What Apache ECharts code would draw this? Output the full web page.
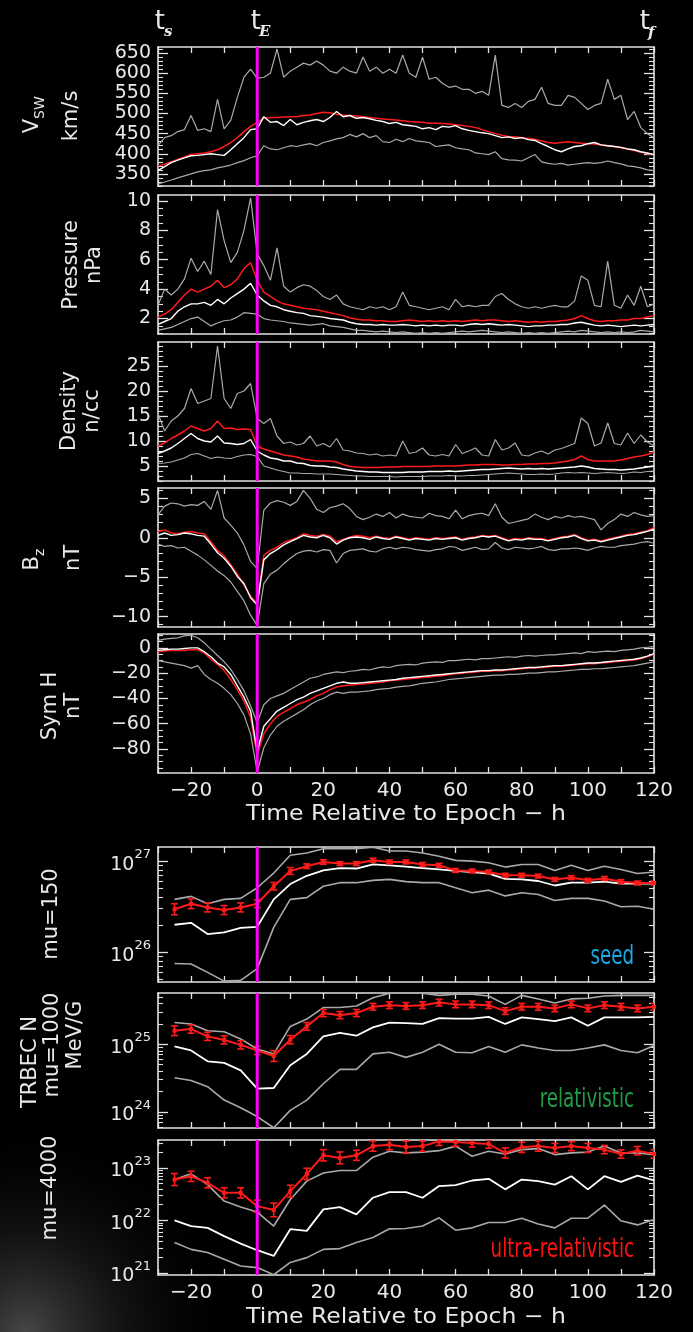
<!DOCTYPE html>
<html><head><meta charset="utf-8">
<script src="https://cdn.jsdelivr.net/npm/echarts@6/dist/echarts.min.js"></script>
<style>html,body{margin:0;padding:0;background:#000;}#c{width:693px;height:1332px;}</style>
</head><body><div id="c"></div>
<script>
// ---------------- DATA ----------------
const hoursSW = [-30,-28,-26,-24,-22,-20,-18,-16,-14,-12,-10,-8,-6,-4,-2,0,2,4,6,8,10,12,14,16,18,20,22,24,26,28,30,32,34,36,38,40,42,44,46,48,50,52,54,56,58,60,62,64,66,68,70,72,74,76,78,80,82,84,86,88,90,92,94,96,98,100,102,104,106,108,110,112,114,116,118,120];
const hoursFlux = [-25,-20,-15,-10,-5,0,5,10,15,20,25,30,35,40,45,50,55,60,65,70,75,80,85,90,95,100,105,110,115,120];
const xLabelValues = [-20,0,20,40,60,80,100,120];

const vswTicks = [350,400,450,500,550,600,650];
const presTicks = [2,4,6,8,10];
const densTicks = [5,10,15,20,25];
const bzTicks = [-10,-5,0,5];
const symTicks = [-80,-60,-40,-20,0];

const vswHi = [420,440,445,455,460,495,458,462,455,535,462,483,540,590,610,587,590,600,660,590,605,615,625,620,630,620,605,600,615,605,600,640,605,615,600,610,600,645,600,590,640,585,590,575,565,568,560,560,550,555,545,645,520,515,525,515,530,535,565,525,520,520,545,540,525,510,520,525,585,535,545,485,505,465,450,440];
const vswRed = [370,374,380,386,392,398,400,402,405,410,418,428,440,455,468,478,488,490,490,491,492,492,495,496,500,503,502,498,496,495,494,492,490,488,486,485,484,482,480,479,478,476,476,475,474,472,470,468,465,460,455,450,446,443,442,440,438,436,432,428,426,428,430,428,426,425,424,422,420,418,415,412,408,404,400,398];
const vswWhite = [358,368,378,384,390,395,396,398,400,398,396,410,425,440,460,462,492,478,480,470,485,472,478,482,485,480,490,505,492,495,488,490,487,483,480,475,478,472,470,468,462,465,460,468,466,470,462,458,455,452,450,445,440,442,438,440,435,433,425,418,410,405,412,418,420,425,428,422,420,418,416,412,410,405,402,398];
const vswLo = [325,330,335,340,345,350,355,358,360,365,368,372,378,383,390,395,420,412,410,415,420,418,422,425,420,428,432,437,440,448,442,450,440,445,430,428,436,430,438,432,430,428,418,420,422,415,412,410,402,400,398,405,388,385,384,382,390,398,380,376,374,376,372,374,376,378,376,378,382,378,375,370,368,365,360,358];

const presHi = [2.9,4.0,3.6,4.0,4.7,6.1,5.2,5.9,5.0,9.4,7.3,5.8,6.5,8.0,10.2,6.4,5.6,4.6,6.8,4.2,3.8,4.1,4.3,4.2,3.9,3.5,3.3,3.6,3.0,2.8,2.7,2.6,2.8,2.7,2.8,2.6,2.8,3.8,2.9,2.8,2.7,2.6,2.7,2.8,2.6,3.3,2.8,2.9,2.8,2.9,2.9,3.5,3.7,3.3,3.0,2.8,2.7,2.8,2.7,2.8,2.9,2.8,2.8,3.2,4.9,4.6,2.9,2.8,5.9,2.9,2.7,3.6,2.9,4.2,2.8,3.0];
const presRed = [2.1,2.3,2.6,3.1,3.6,4.0,3.8,4.0,4.2,4.6,4.1,4.3,4.7,5.4,5.8,4.6,3.8,3.5,3.2,3.0,2.9,2.8,2.7,2.65,2.6,2.5,2.4,2.3,2.2,2.05,1.95,1.9,1.9,1.85,1.85,1.8,1.8,1.85,1.9,1.85,1.8,1.85,1.8,1.85,1.8,1.85,1.8,1.85,1.9,1.85,1.9,1.9,1.85,1.8,1.85,1.8,1.75,1.8,1.75,1.8,1.8,1.85,1.9,2.0,2.2,2.0,1.85,1.8,1.85,1.85,1.9,1.9,2.0,2.0,2.1,2.2];
const presWhite = [1.6,1.8,2.0,2.5,2.8,3.0,3.0,3.1,2.9,3.3,3.0,3.4,3.7,4.0,4.4,3.6,3.2,2.9,2.8,2.6,2.5,2.4,2.35,2.2,2.15,2.1,2.0,1.95,1.9,1.75,1.65,1.6,1.6,1.55,1.6,1.55,1.55,1.6,1.55,1.5,1.55,1.5,1.55,1.5,1.55,1.55,1.5,1.6,1.65,1.6,1.65,1.6,1.55,1.6,1.55,1.5,1.45,1.5,1.5,1.55,1.55,1.6,1.6,1.7,1.75,1.65,1.55,1.5,1.55,1.5,1.45,1.5,1.55,1.5,1.55,1.6];
const presLo = [1.2,1.3,1.4,1.6,1.8,2.0,2.1,1.8,1.5,1.7,1.85,1.9,2.1,2.4,2.35,2.3,2.0,1.9,1.85,1.8,1.7,1.65,1.6,1.55,1.6,1.65,1.5,1.45,1.4,1.3,1.2,1.2,1.15,1.1,1.15,1.1,1.05,1.1,1.05,1.0,1.05,1.0,1.05,1.0,1.05,1.1,1.15,1.1,1.15,1.2,1.15,1.1,1.05,1.1,1.05,1.0,1.05,1.0,1.05,1.0,1.05,1.1,1.15,1.1,1.2,1.15,1.1,1.05,1.1,1.05,1.1,1.05,1.1,1.2,1.15,1.1];

const densHi = [15.5,12.0,14.0,15.0,16.5,20.5,17.5,18.0,18.5,29.0,18.5,16.5,19.5,20.0,21.5,14.5,13.5,14.5,11.0,9.5,9.8,9.2,9.5,11.0,9.0,9.5,8.8,10.5,8.2,8.0,7.6,7.5,7.2,7.4,7.0,7.2,7.0,10.0,7.5,7.8,8.6,7.2,7.0,7.3,7.0,9.3,7.5,8.0,8.6,7.2,7.0,10.3,8.2,8.6,9.6,7.2,7.0,7.6,8.0,7.4,8.2,8.5,9.0,9.5,14.6,13.5,9.0,9.6,13.6,9.5,9.2,11.6,9.5,11.2,9.8,9.0];
const densRed = [9.0,9.6,10.5,11.2,12.0,13.0,12.5,12.0,12.5,14.0,12.5,12.6,12.3,12.4,12.3,9.0,8.4,8.0,7.6,7.2,7.0,6.8,6.4,6.2,6.0,6.0,6.0,5.8,5.3,4.9,4.8,4.7,4.7,4.7,4.75,4.8,4.8,4.9,4.9,4.9,4.9,4.9,5.0,5.0,5.0,5.0,5.1,5.2,5.2,5.3,5.3,5.3,5.2,5.2,5.3,5.3,5.4,5.4,5.5,5.5,5.6,5.8,6.0,6.3,7.0,6.3,6.0,6.0,6.0,6.0,6.2,6.5,6.8,7.0,7.3,7.8];
const densWhite = [7.5,8.0,8.6,9.5,10.5,11.5,10.5,10.0,9.8,11.0,9.6,9.5,9.3,9.5,10.3,8.0,7.2,6.6,6.4,6.0,6.0,5.6,5.5,5.1,5.0,5.0,4.8,4.7,4.4,4.2,4.0,3.9,3.8,3.8,3.7,3.7,3.7,3.7,3.8,3.8,3.8,3.9,3.9,3.9,4.0,3.9,4.0,4.1,4.2,4.3,4.3,4.4,4.5,4.6,4.5,4.4,4.5,4.4,4.5,4.4,4.5,4.6,4.7,4.8,5.0,4.8,4.5,4.4,4.3,4.3,4.2,4.3,4.4,4.6,4.8,5.0];
const densLo = [5.5,5.6,5.8,6.2,6.6,7.3,7.5,7.0,6.5,6.8,6.6,6.5,6.9,7.2,7.3,6.9,5.0,4.6,4.2,3.9,3.6,3.6,3.5,3.5,3.4,3.4,3.4,3.3,3.2,3.1,3.0,3.0,2.9,2.9,2.9,2.9,2.8,2.9,2.9,2.9,2.9,3.0,3.0,3.0,3.1,3.0,3.0,3.1,3.1,3.2,3.3,3.4,3.5,3.6,3.5,3.4,3.3,3.3,3.4,3.3,3.4,3.6,3.7,3.6,3.7,3.6,3.5,3.6,3.7,3.6,3.5,3.6,3.8,3.7,3.9,4.0];

const bzHi = [2.9,4.0,4.4,4.3,4.0,4.2,4.1,4.6,3.6,6.0,2.5,1.6,0.6,-0.9,-3.0,-3.9,3.5,4.4,4.7,4.5,4.1,4.6,6.0,5.0,3.6,3.2,3.8,4.0,4.3,3.7,2.7,2.3,2.6,3.0,2.7,3.2,2.5,3.0,2.7,2.6,2.5,3.1,2.8,2.7,2.4,3.5,2.4,2.8,3.0,3.1,2.8,4.3,2.6,1.8,2.0,2.2,2.4,3.0,2.6,2.3,2.7,2.5,2.8,2.6,2.7,2.5,2.3,1.0,1.8,2.3,3.0,2.7,3.2,2.9,2.7,2.8];
const bzRed = [0.8,1.0,0.6,0.5,0.7,0.8,0.6,0.5,-0.5,-1.6,-2.3,-3.4,-4.6,-6.0,-7.4,-8.3,-2.2,-1.6,-1.2,-0.6,-0.3,0.0,0.5,0.3,0.2,0.4,0.2,-0.5,-0.2,0.1,0.3,0.2,0.0,0.2,0.0,-0.1,0.2,0.0,-0.2,0.0,-0.1,-0.2,0.0,-0.1,0.0,0.1,-0.2,0.0,0.1,0.3,0.2,0.3,0.0,-0.3,-0.1,-0.2,0.0,-0.1,-0.1,-0.3,-0.1,0.1,0.2,0.4,0.0,-0.3,-0.2,-0.4,-0.2,0.0,0.2,0.4,0.5,0.7,0.9,1.3];
const bzWhite = [0.3,0.6,0.3,0.4,0.6,0.5,0.3,0.2,-0.8,-1.9,-2.6,-3.6,-4.9,-5.8,-7.6,-8.5,-2.8,-2.0,-1.5,-0.9,-0.5,-0.1,0.3,0.1,0.0,0.3,0.0,-0.8,-0.3,0.0,0.1,0.0,-0.2,0.1,-0.1,-0.2,0.1,-0.1,-0.3,-0.1,-0.2,-0.3,-0.1,-0.2,-0.1,0.0,-0.3,-0.1,0.0,0.2,0.1,0.2,-0.1,-0.4,-0.2,-0.3,-0.1,-0.2,-0.2,-0.4,-0.2,0.0,0.1,0.3,-0.1,-0.4,-0.3,-0.5,-0.3,-0.1,0.1,0.3,0.4,0.6,0.8,1.1];
const bzLo = [-0.8,-1.1,-1.0,-1.3,-1.2,-1.7,-2.2,-2.8,-3.5,-4.2,-4.8,-5.6,-6.8,-8.0,-9.8,-11.1,-5.8,-4.6,-4.1,-3.3,-2.6,-2.0,-1.7,-1.6,-1.8,-1.5,-1.6,-3.2,-2.0,-1.6,-1.5,-1.4,-1.7,-1.8,-1.4,-1.2,-1.4,-1.2,-1.3,-1.5,-1.6,-1.7,-1.5,-1.4,-1.1,-1.2,-1.6,-1.4,-1.2,-1.5,-1.4,-0.6,-1.3,-1.5,-1.2,-1.3,-1.4,-1.3,-1.1,-1.5,-1.6,-1.4,-1.4,-1.3,-1.4,-1.6,-1.3,-1.1,-1.2,-1.2,-1.0,-0.9,-0.8,-0.6,-0.5,-0.7];

const symHi = [6,7,7.5,8,9.5,10,8,4,-1,-6,-11,-17,-25,-34,-46,-59,-45,-40,-38,-36,-33,-30,-27,-24,-23,-21,-20,-19,-19.5,-18.5,-18,-17,-17.5,-16,-15,-15.5,-14,-13.5,-13,-13.5,-12,-11.5,-11,-11.5,-10,-10,-9.5,-9,-9.5,-8.5,-8.5,-8,-7.5,-7,-7.5,-6.5,-6,-6.5,-6,-5.5,-5.5,-5,-4.5,-4,-4.5,-3,-3.5,-3,-2.5,-3,-2,-1.5,-1,0,0.5,1];
const symRed = [-3,-2.5,-2,-2,-2,-1.5,-1.5,-4,-9,-13,-18,-25,-33,-42,-55,-85,-68,-60,-54,-51,-48,-45,-43,-41,-38,-36,-33,-31,-30,-29.5,-29,-28.5,-28,-27.5,-27,-26,-25.5,-25,-24.5,-24,-23.5,-23,-22.5,-22,-21,-20.5,-20,-19.5,-19,-18.5,-18.5,-18,-18,-17.5,-17,-16.5,-16,-16,-15.5,-15,-14.5,-14.5,-14,-13.5,-13,-12.5,-12.5,-12,-11.5,-11,-10.5,-10,-9.5,-8.5,-7,-5];
const symWhite = [-2,-1.5,-1,-1,-0.5,0,0,-3,-7,-12,-15,-21,-30,-39,-50,-82,-62,-56,-50,-47,-44,-41,-39,-36,-34,-32,-30,-28,-27,-28,-28,-27.5,-27,-26.5,-26,-25.5,-25,-24,-23.5,-23,-22.5,-22,-21.5,-21,-20.5,-20,-19.5,-19,-18.5,-18,-18,-17.5,-17.5,-17,-16.5,-16,-15.5,-15.5,-15,-14.5,-14,-14,-13.5,-13,-12.5,-12,-12,-11.5,-11,-10.5,-10,-9.5,-9,-8,-6.5,-4.5];
const symLo = [-10,-11,-12,-13,-14,-16,-14,-21,-25,-28,-32,-37,-44,-53,-68,-98,-79,-69,-62,-58,-55,-52,-49,-45,-42,-40,-37,-35,-36,-35,-35,-34.5,-34,-33,-32.5,-32,-31,-30.5,-30,-29,-28,-27.5,-27,-26,-25,-24.5,-24,-23.5,-23,-22.5,-22,-21.5,-21.5,-21,-21,-20.5,-20,-20,-19.5,-19,-19,-18.5,-18,-17.5,-17,-17,-16.5,-16.5,-16,-15.5,-15,-14.5,-14,-13,-12,-11];

const f150Decades = [1e26,1e27];
const f150Red = [2.96e26,3.4e26,3.1e26,2.9e26,3.1e26,3.4e26,5.3e26,7.8e26,8.8e26,9.8e26,9.4e26,9.4e26,1.025e27,9.8e26,9.8e26,9.2e26,9.0e26,7.9e26,7.8e26,7.6e26,7.0e26,7.0e26,6.85e26,6.3e26,6.6e26,6.15e26,6.45e26,5.95e26,5.75e26,5.75e26];
const f150Err = [0.15,0.13,0.12,0.12,0.12,0.1,0.1,0.09,0.06,0.06,0.05,0.05,0.05,0.05,0.05,0.05,0.05,0.05,0.05,0.05,0.05,0.05,0.05,0.05,0.05,0.05,0.05,0.05,0.05,0.05];
const f150White = [2.0e26,2.1e26,1.58e26,1.65e26,1.85e26,1.9e26,3.8e26,5.6e26,6.9e26,7.9e26,8.4e26,8.3e26,9.2e26,9.0e26,8.7e26,8.4e26,8.1e26,7.8e26,7.6e26,7.3e26,6.4e26,6.3e26,6.05e26,5.4e26,5.8e26,5.8e26,5.95e26,5.65e26,5.65e26,5.65e26];
const f150Hi = [3.8e26,4.1e26,3.4e26,3.8e26,3.9e26,5.1e26,7.4e26,1.16e27,1.23e27,1.37e27,1.37e27,1.37e27,1.42e27,1.29e27,1.29e27,1.23e27,1.13e27,1.02e27,1.0e27,9.6e26,8.6e26,9.2e26,9.2e26,7.9e26,9.0e26,7.9e26,8.8e26,8.1e26,7.3e26,7.6e26];
const f150Lo = [7.5e25,7.4e25,6.0e25,4.8e25,4.9e25,6.6e25,1.87e26,3.8e26,3.97e26,5.3e26,5.8e26,5.8e26,6.15e26,6.3e26,5.95e26,5.8e26,5.8e26,5.1e26,4.5e26,4.8e26,4.15e26,4.5e26,4.3e26,3.7e26,3.9e26,3.9e26,3.65e26,3.15e26,3.2e26,2.96e26];

const f1000Decades = [1e24,1e25];
const f1000Red = [1.59e25,1.68e25,1.31e25,1.16e25,9.8e24,8.1e24,6.7e24,1.17e25,1.84e25,2.9e25,2.7e25,2.9e25,3.6e25,3.8e25,3.7e25,3.8e25,4.15e25,3.9e25,3.9e25,3.8e25,3.1e25,3.6e25,3.6e25,3.4e25,3.9e25,3.4e25,3.8e25,3.6e25,3.4e25,3.6e25];
const f1000Err = [0.18,0.15,0.15,0.15,0.15,0.15,0.2,0.15,0.14,0.13,0.13,0.13,0.12,0.12,0.12,0.12,0.12,0.12,0.12,0.12,0.12,0.12,0.12,0.12,0.12,0.12,0.12,0.12,0.12,0.12];
const f1000White = [9.3e24,8.1e24,5.6e24,5.3e24,4.1e24,2.2e24,2.25e24,4.9e24,7.2e24,1.31e25,1.47e25,1.34e25,1.78e25,2.1e25,2.06e25,2.0e25,2.44e25,2.4e25,2.4e25,2.55e25,2.0e25,2.5e25,2.36e25,2.2e25,2.5e25,1.88e25,2.5e25,2.5e25,2.5e25,2.55e25];
const f1000Hi = [2.1e25,2.0e25,1.59e25,1.53e25,1.2e25,8.5e24,7.2e24,1.84e25,2.36e25,3.5e25,3.5e25,3.7e25,4.9e25,5.7e25,5.7e25,5.7e25,5.3e25,5.5e25,5.5e25,5.2e25,3.9e25,5.3e25,4.7e25,4.1e25,4.7e25,4.8e25,5.2e25,5.3e25,5.3e25,5.3e25];
const f1000Lo = [3.2e24,2.9e24,2.35e24,1.49e24,1.15e24,8.5e23,5.8e23,1.05e24,1.49e24,2.6e24,4.25e24,4.25e24,7.2e24,7.6e24,6.4e24,7.6e24,1.0e25,7.6e24,7.5e24,9.3e24,7.6e24,9.8e24,8.8e24,8.1e24,8.1e24,8.8e24,9.8e24,8.1e24,7.5e24,9.6e24];

const f4000Decades = [1e21,1e22,1e23];
const f4000Red = [6.0e22,6.9e22,5.2e22,3.35e22,3.35e22,1.87e22,1.58e22,3.6e22,7.7e22,1.74e23,1.55e23,1.74e23,2.6e23,2.77e23,2.5e23,2.6e23,3.2e23,3.1e23,2.98e23,2.85e23,1.93e23,2.47e23,2.6e23,2.4e23,2.6e23,2.4e23,2.23e23,1.84e23,2.13e23,1.84e23];
const f4000Err = [0.3,0.25,0.25,0.25,0.25,0.3,0.35,0.3,0.28,0.28,0.3,0.25,0.25,0.25,0.3,0.25,0.2,0.2,0.2,0.2,0.25,0.25,0.25,0.22,0.22,0.22,0.2,0.2,0.2,0.2];
const f4000White = [1.0e22,7.8e21,7.2e21,5.0e21,3.6e21,2.7e21,2.1e21,6.8e21,6.3e21,1.62e22,1.79e22,1.3e22,2.7e22,3.45e22,3.45e22,2.7e22,4.5e22,4.7e22,5.75e22,6.2e22,3.9e22,6.0e22,5.6e22,4.8e22,6.95e22,3.9e22,6.95e22,5.4e22,7.1e22,5.8e22];
const f4000Hi = [6.0e22,7.7e22,4.8e22,2.33e22,1.79e22,1.44e22,7.8e21,2.5e22,5.6e22,8.0e22,8.9e22,8.9e22,1.6e23,2.07e23,1.93e23,2.0e23,2.13e23,2.6e23,1.67e23,2.07e23,1.84e23,2.23e23,2.33e23,1.79e23,1.93e23,2.0e23,2.6e23,1.93e23,1.93e23,1.79e23];
const f4000Lo = [3.8e21,2.8e21,2.45e21,1.82e21,1.35e21,1.26e21,9.2e20,1.58e21,1.95e21,2.8e21,2.9e21,3.8e21,4.7e21,6.9e21,7.0e21,7.8e21,1.12e22,6.5e21,7.2e21,9.1e21,9.1e21,1.1e22,8.5e21,7.2e21,1.1e22,1.1e22,1.96e22,9.8e21,8.2e21,1.04e22];

// ---------------- PANELS (data refs + axis ranges) ----------------
const linPanels = [
  {min:320, max:665, major:vswTicks, step:10, hi:vswHi, lo:vswLo, white:vswWhite, red:vswRed},
  {min:0.95, max:10.4, major:presTicks, step:0.5, hi:presHi, lo:presLo, white:presWhite, red:presRed},
  {min:2.0, max:29.8, major:densTicks, step:1, hi:densHi, lo:densLo, white:densWhite, red:densRed},
  {min:-11.3, max:6.3, major:bzTicks, step:1, hi:bzHi, lo:bzLo, white:bzWhite, red:bzRed},
  {min:-99, max:11, major:symTicks, step:5, hi:symHi, lo:symLo, white:symWhite, red:symRed}
];
const logPanels = [
  {min:4.7e25, max:1.43e27, major:f150Decades, hi:f150Hi, lo:f150Lo, white:f150White, red:f150Red, err:f150Err},
  {min:5.75e23, max:5.75e25, major:f1000Decades, hi:f1000Hi, lo:f1000Lo, white:f1000White, red:f1000Red, err:f1000Err},
  {min:9.1e20, max:3.4e23, major:f4000Decades, hi:f4000Hi, lo:f4000Lo, white:f4000White, red:f4000Red, err:f4000Err}
];

// ---------------- LAYOUT / STYLE ----------------
const gridTops = [47,195,342,488,634,847,993,1140];
const gridHeights = [139,139,139,139,139,135,135,135];
const GL = 158, GW = 496;
const FRAME = '#e2e2e2', TXT = '#e8e8e8', GREY = '#a9a9a9', RED = '#ff1a1a', MAG = '#ff00ff';
const FONT = 'DejaVu Sans';

function fmtNum(v){ return String(v).replace('-', '\u2212'); }
function linMinor(min, max, step, major){
  const out = [];
  const n0 = Math.ceil(min/step - 1e-9), n1 = Math.floor(max/step + 1e-9);
  for (let n = n0; n <= n1; n++){
    const v = +(n*step).toFixed(6);
    if (!major.some(m => Math.abs(m - v) < 1e-9)) out.push(v);
  }
  return out;
}
function logMinor(min, max){
  const out = [];
  for (let e = Math.floor(Math.log10(min)); e <= Math.ceil(Math.log10(max)); e++){
    for (let m = 2; m <= 9; m++){ const v = m*Math.pow(10,e); if (v >= min && v <= max) out.push(v); }
  }
  return out;
}

const grid = [], xAxis = [], yAxis = [], series = [];

function addAxes(g, type, min, max, major, minor, showX, labelFmt, rich){
  grid.push({left:GL, width:GW, top:gridTops[g], height:gridHeights[g], containLabel:false});
  ['bottom','top'].forEach(pos => {
    const show = showX && pos === 'bottom';
    xAxis.push({type:'value', gridIndex:g, min:-30, max:120, interval:10, position:pos,
      axisLine:{show:true, onZero:false, lineStyle:{color:FRAME, width:1.6}},
      axisTick:{show:true, inside:true, length:6, lineStyle:{color:FRAME, width:1.3}},
      axisLabel: show ? {show:true, customValues:xLabelValues, formatter:fmtNum, color:TXT, fontSize:20, fontFamily:FONT, margin:8} : {show:false},
      splitLine:{show:false}});
  });
  ['left','right'].forEach(pos => {
    const lab = pos === 'left';
    const base = {type:type, gridIndex:g, min:min, max:max, position:pos, splitLine:{show:false}};
    if (type === 'log') base.logBase = 10;
    yAxis.push(Object.assign({}, base, {
      axisLine:{show:true, onZero:false, lineStyle:{color:FRAME, width:1.6}},
      axisTick:{show:true, inside:true, length:10, customValues:major, lineStyle:{color:FRAME, width:1.3}},
      axisLabel: lab ? {show:true, customValues:major, formatter:labelFmt, color:TXT, fontSize:19, fontFamily:FONT, margin:7, rich:rich} : {show:false}
    }));
    yAxis.push(Object.assign({}, base, {
      axisLine:{show:false, onZero:false},
      axisTick:{show:true, inside:true, length:5, customValues:minor, lineStyle:{color:FRAME, width:1.1}},
      axisLabel:{show:false}
    }));
  });
}

function lineS(g, xs, ys, color, width, z, extra){
  return Object.assign({type:'line', xAxisIndex:2*g, yAxisIndex:4*g,
    data: xs.map((t,k) => [t, ys[k]]), showSymbol:false, symbol:'none',
    lineStyle:{color:color, width:width}, itemStyle:{color:color}, z:z, silent:true, animation:false}, extra || {});
}

linPanels.forEach((p, i) => {
  addAxes(i, 'value', p.min, p.max, p.major, linMinor(p.min, p.max, p.step, p.major), i === 4, fmtNum, null);
  series.push(lineS(i, hoursSW, p.hi, GREY, 1.2, 2));
  series.push(lineS(i, hoursSW, p.lo, GREY, 1.2, 2));
  series.push(lineS(i, hoursSW, p.red, RED, 1.5, 3));
  series.push(lineS(i, hoursSW, p.white, '#ffffff', 1.4, 4));
  series.push(lineS(i, [0,0], [p.min, p.max], MAG, 3, 8));
});

const logRich = {
  b:{fontSize:19, color:TXT, fontFamily:FONT, lineHeight:26, verticalAlign:'bottom'},
  s:{fontSize:13, color:TXT, fontFamily:FONT, verticalAlign:'top'}
};
function logFmt(v){ return '{b|10}{s|' + Math.round(Math.log10(v)) + '}'; }

function errRender(params, api){
  const x = api.value(0), lo = api.value(1), hi = api.value(2);
  const p1 = api.coord([x, lo]), p2 = api.coord([x, hi]);
  const w = 3.5;
  const st = {stroke:RED, lineWidth:1.6, fill:null};
  return {type:'group', children:[
    {type:'line', shape:{x1:p1[0], y1:p1[1], x2:p2[0], y2:p2[1]}, style:st},
    {type:'line', shape:{x1:p1[0]-w, y1:p1[1], x2:p1[0]+w, y2:p1[1]}, style:st},
    {type:'line', shape:{x1:p2[0]-w, y1:p2[1], x2:p2[0]+w, y2:p2[1]}, style:st}
  ]};
}

logPanels.forEach((p, j) => {
  const g = 5 + j;
  addAxes(g, 'log', p.min, p.max, p.major, logMinor(p.min, p.max), j === 2, logFmt, logRich);
  series.push(lineS(g, hoursFlux, p.hi, GREY, 1.6, 2));
  series.push(lineS(g, hoursFlux, p.lo, GREY, 1.6, 2));
  series.push(lineS(g, hoursFlux, p.white, '#ffffff', 1.8, 3));
  series.push(lineS(g, hoursFlux, p.red, RED, 2, 5, {showSymbol:true, symbol:'rect', symbolSize:4}));
  series.push({type:'custom', xAxisIndex:2*g, yAxisIndex:4*g, renderItem:errRender, clip:true, z:5, silent:true,
    encode:{x:0, y:[1,2]},
    data: hoursFlux.map((t,k) => [t, p.red[k]/(1+p.err[k]), p.red[k]*(1+p.err[k])])});
  series.push(lineS(g, [0,0], [p.min, p.max], MAG, 3, 8));
});

// ---------------- TEXT ----------------
const NF = '21px "DejaVu Sans"';
function vtext(x, y, text, font, align){
  return {type:'text', x:x, y:y, rotation:Math.PI/2, silent:true,
    style:{text:text, fill:TXT, font:font || NF, textAlign:align || 'center', textVerticalAlign:'middle'}};
}
function htext(x, y, text, font, align, color, sx){
  return {type:'text', x:x, y:y, scaleX:sx || 1, silent:true,
    style:{text:text, fill:color || TXT, font:font, textAlign:align || 'center', textVerticalAlign:'middle'}};
}
const SUBF = 'italic bold 15px "DejaVu Serif"';
const NARROW = '26px "DejaVu Sans Condensed", "DejaVu Sans", sans-serif';
const graphics = [
  {type:'rect', z:-10, silent:true, shape:{x:0, y:1110, width:260, height:222},
   style:{fill:{type:'radial', x:0.1, y:1, r:0.95, colorStops:[{offset:0, color:'rgba(140,140,140,0.5)'},{offset:0.45, color:'rgba(90,90,90,0.22)'},{offset:1, color:'rgba(0,0,0,0)'}]}}},
  htext(165, 22, 't', '26px "DejaVu Sans"', 'right'),
  htext(164, 32, 's', SUBF, 'left'),
  htext(261, 22, 't', '26px "DejaVu Sans"', 'right'),
  htext(259, 32, 'E', SUBF, 'left'),
  htext(650, 22, 't', '26px "DejaVu Sans"', 'right'),
  htext(648, 33, 'f', SUBF, 'left'),
  // panel titles
  vtext(33, 119, 'V', NF, 'right'),
  vtext(40, 119, 'SW', '14px "DejaVu Sans"', 'left'),
  vtext(72, 116, 'km/s'),
  vtext(72, 265, 'Pressure'),
  vtext(95, 265, 'nPa'),
  vtext(70, 411, 'Density'),
  vtext(93, 411, 'n/cc'),
  vtext(33, 556, 'B', NF, 'right'),
  vtext(40, 556, 'z', '14px "DejaVu Sans"', 'left'),
  vtext(74, 558, 'nT'),
  vtext(51, 706, 'Sym H'),
  vtext(74, 706, 'nT'),
  vtext(52, 914, 'mu=150'),
  vtext(31, 1062, 'TRBEC N'),
  vtext(53, 1045, 'mu=1000'),
  vtext(76, 1035, 'MeV/G'),
  vtext(51, 1188, 'mu=4000'),
  htext(406, 815, 'Time Relative to Epoch \u2212 h', '21px "DejaVu Sans"', 'center', TXT, 1.12),
  htext(406, 1318, 'Time Relative to Epoch \u2212 h', '21px "DejaVu Sans"', 'center', TXT, 1.12),
  htext(634, 957, 'seed', NARROW, 'right', '#1aa8e6', 0.78),
  htext(634, 1100, 'relativistic', NARROW, 'right', '#1f9e48', 0.78),
  htext(634, 1250, 'ultra-relativistic', NARROW, 'right', '#ff1212', 0.78)
];

const chart = echarts.init(document.getElementById('c'), null, {renderer:'canvas'});
chart.setOption({
  backgroundColor:'#000000',
  animation:false,
  grid:grid, xAxis:xAxis, yAxis:yAxis, series:series,
  graphic:{elements:graphics}
});
</script></body></html>
